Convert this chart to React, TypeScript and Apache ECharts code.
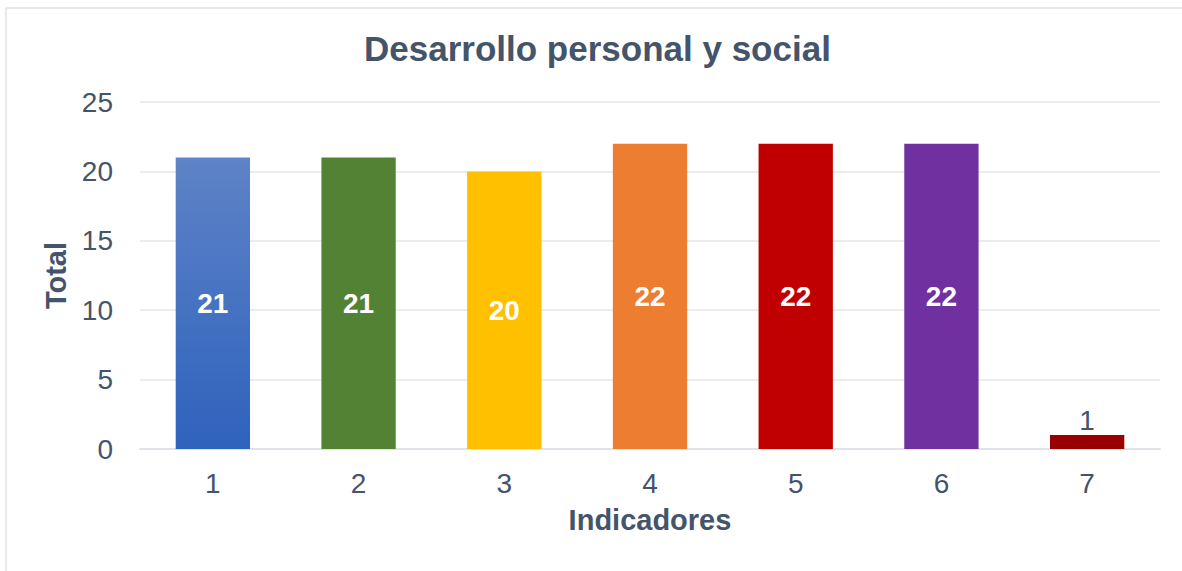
import React, { useEffect, useRef } from "react";
import * as echarts from "echarts";

const categories = ["1", "2", "3", "4", "5", "6", "7"];
const values = [21, 21, 20, 22, 22, 22, 1];
const yTicks = [0, 5, 10, 15, 20, 25];
const titleText = "Desarrollo personal y social";
const xName = "Indicadores";
const yName = "Total";

const FONT = "Arial, 'Liberation Sans', sans-serif";
const TXT = "#44546A";

export default function App() {
  const ref = useRef<HTMLDivElement>(null);
  useEffect(() => {
    if (!ref.current) return;
    const chart = echarts.init(ref.current, undefined, { renderer: "svg" });
    const colors: any[] = [
      new echarts.graphic.LinearGradient(0, 0, 0, 1, [
        { offset: 0, color: "rgb(94,131,199)" },
        { offset: 1, color: "rgb(46,98,188)" },
      ]),
      "#548235",
      "#FFC000",
      "#ED7D31",
      "#C00000",
      "#7030A0",
      "#990000",
    ];
    const data = values.map((v, i) => {
      const small = v < 3;
      return {
        value: v,
        itemStyle: { color: colors[i] },
        label: small
          ? { position: "top", distance: 1, color: TXT, fontWeight: "normal" }
          : { position: "inside", color: "#FFFFFF", fontWeight: "bold" },
      };
    });
    chart.setOption({
      animation: false,
      backgroundColor: "#FFFFFF",
      textStyle: { fontFamily: FONT },
      title: {
        text: titleText,
        left: 359,
        top: 26,
        textStyle: { fontFamily: FONT, fontSize: 35, fontWeight: "bold", color: TXT },
      },
      graphic: [
        {
          type: "line",
          shape: { x1: 6, y1: 8, x2: 1182, y2: 8 },
          style: { stroke: "#DDE1E6", lineWidth: 1.5 },
          silent: true,
        },
        {
          type: "line",
          shape: { x1: 6, y1: 8, x2: 6, y2: 571 },
          style: { stroke: "#DDE1E6", lineWidth: 1.5 },
          silent: true,
        },
      ],
      grid: { left: 140, right: 22, top: 102, bottom: 122 },
      xAxis: {
        type: "category",
        data: categories,
        name: xName,
        nameLocation: "middle",
        nameGap: 56,
        nameTextStyle: { fontFamily: FONT, fontSize: 29, fontWeight: "bold", color: TXT },
        axisLine: { show: true, lineStyle: { color: "#E0E3E8", width: 2 } },
        axisTick: { show: false },
        axisLabel: { fontFamily: FONT, fontSize: 28, color: TXT, margin: 20 },
      },
      yAxis: {
        type: "value",
        min: yTicks[0],
        max: yTicks[yTicks.length - 1],
        interval: 5,
        name: yName,
        nameLocation: "middle",
        nameGap: 70,
        nameRotate: 90,
        nameTextStyle: { fontFamily: FONT, fontSize: 29, fontWeight: "bold", color: TXT },
        axisLine: { show: false },
        axisTick: { show: false },
        splitLine: { lineStyle: { color: "#E3E6EA", width: 1.5 } },
        axisLabel: { fontFamily: FONT, fontSize: 28, color: TXT, margin: 27 },
      },
      series: [
        {
          type: "bar",
          data,
          barWidth: "51%",
          label: { show: true, fontFamily: FONT, fontSize: 28 },
        },
      ],
    });
    return () => chart.dispose();
  }, []);
  return (
    <div
      ref={ref}
      style={{ position: "absolute", left: 0, top: 0, width: 1182, height: 571 }}
    />
  );
}
